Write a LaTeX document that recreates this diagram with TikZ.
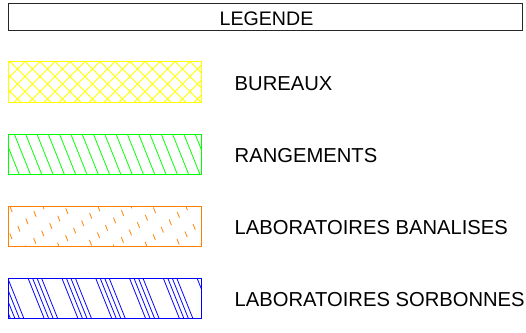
\documentclass[tikz,border=0pt]{standalone}
\usepackage{fontspec}
\setmainfont{Liberation Sans}
\definecolor{yel}{RGB}{255,255,0}
\definecolor{grn}{RGB}{0,255,0}
\definecolor{org}{RGB}{255,128,0}
\definecolor{blu}{RGB}{0,0,255}
\begin{document}
\begin{tikzpicture}[x=1pt,y=-1pt,
  hatch/.style={line width=0.8pt},
  legbox/.style={draw, line width=0.9pt},
  legtext/.style={anchor=west, inner sep=0pt, font=\fontsize{20.2}{24}\selectfont},
  titletext/.style={inner sep=0pt, font=\fontsize{19.6}{23}\selectfont}]
\useasboundingbox (0,0) rectangle (526,332);
% title
\draw[line width=0.8pt, black!85] (8,3) rectangle (522.5,30.5);
\node[titletext] (title) at (266.5,18.5) {LEGENDE};
% yellow crosshatch
\begin{scope}
\clip (8.5,61.5) rectangle (201.5,102.5);
\foreach \k in {-3,...,15} {
  \draw[hatch, yel] ({25+\k*15},61.5) -- ++(41,41);
  \draw[hatch, yel] ({25+\k*15},61.5) -- ++(-41,41);
}
\end{scope}
\draw[legbox, yel] (8.5,61.5) rectangle (201.5,102.5);
% green hatch
\begin{scope}
\clip (8.5,134) rectangle (201.5,174.5);
\foreach \k in {-2,...,17} {
  \draw[hatch, grn] ({14.3+\k*11.3},134) -- ++(16.4,41);
}
\end{scope}
\draw[legbox, grn] (8.5,134) rectangle (201.5,174.5);
% orange dashed hatch
\begin{scope}
\clip (8.5,206.5) rectangle (201.5,246.5);
\foreach \k in {-2,...,18} {
  \pgfmathsetmacro{\ph}{mod(\k*8,21)}
  \draw[hatch, org, dash pattern=on 6pt off 15pt, dash phase=\ph pt] ({10+\k*11},206.5) -- ++(16.4,41);
}
\end{scope}
\draw[legbox, org] (8.5,206.5) rectangle (201.5,246.5);
% blue grouped hatch
\begin{scope}
\clip (8.5,278) rectangle (201.5,318.5);
\foreach \j in {-1,...,6} {
  \foreach \i in {0,...,3} {
    \draw[hatch, blu] ({28+\j*33.8+\i*4.5},278) -- ++(16.4,41);
  }
}
\end{scope}
\draw[legbox, blu] (8.5,278) rectangle (201.5,318.5);
% labels
\node[legtext] (bureaux) at (234.5,83.7) {BUREAUX};
\node[legtext] (rangements) at (234.5,155.7) {RANGEMENTS};
\node[legtext] (banalises) at (234.5,228) {LABORATOIRES BANALISES};
\node[legtext] (sorbonnes) at (234.5,299.7) {LABORATOIRES SORBONNES};
\end{tikzpicture}
\end{document}
